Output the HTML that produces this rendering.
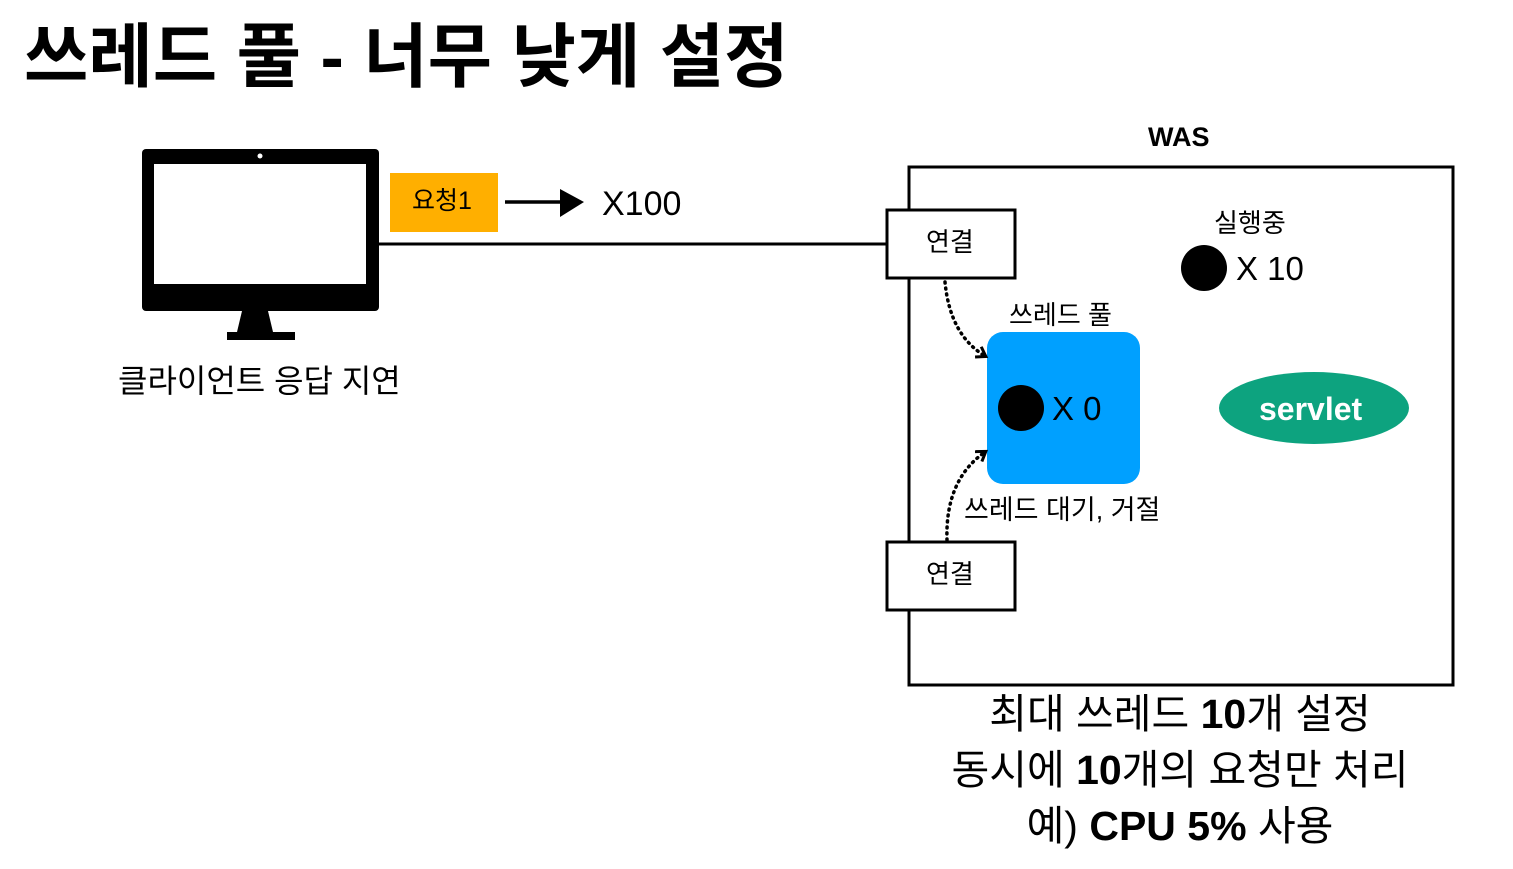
<!DOCTYPE html>
<html><head><meta charset="utf-8"><style>
body{margin:0;width:1513px;height:869px;background:#fff;position:relative;overflow:hidden;font-family:"Liberation Sans","Noto Sans CJK KR",sans-serif;color:#000}
.t{position:absolute;white-space:nowrap;line-height:1}
</style></head><body>
<svg width="1513" height="869" style="position:absolute;left:0;top:0">
<defs><marker id="ah" markerWidth="14" markerHeight="14" refX="10" refY="7" orient="auto" markerUnits="userSpaceOnUse"><path d="M2,1 L11,7 L2,13" fill="none" stroke="#000" stroke-width="3"/></marker></defs>
<rect x="142" y="149" width="237" height="162" rx="4" fill="#000"/>
<rect x="154" y="164" width="212" height="120" fill="#fff"/>
<circle cx="260" cy="156" r="2.5" fill="#fff"/>
<polygon points="242,311 268,311 273,332 237,332" fill="#000"/>
<rect x="227" y="332" width="68" height="8" fill="#000"/>
<line x1="379" y1="244" x2="887" y2="244" stroke="#000" stroke-width="3"/>
<rect x="390" y="173" width="108" height="59" fill="#FFAF00"/>
<line x1="505" y1="202" x2="570" y2="202" stroke="#000" stroke-width="3.5"/>
<polygon points="560,189 584,202 560,217" fill="#000"/>
<rect x="909" y="167" width="544" height="518" fill="none" stroke="#000" stroke-width="3"/>
<rect x="887" y="210" width="128" height="68" fill="#fff" stroke="#000" stroke-width="3"/>
<rect x="887" y="542" width="128" height="68" fill="#fff" stroke="#000" stroke-width="3"/>
<rect x="987" y="332" width="153" height="152" rx="16" fill="#00A0FF"/>
<circle cx="1021" cy="408" r="23" fill="#000"/>
<circle cx="1204" cy="268" r="23" fill="#000"/>
<ellipse cx="1314" cy="408" rx="95" ry="36" fill="#0DA37F"/>
<path d="M945,282 Q950,335 985,356" fill="none" stroke="#000" stroke-width="3.5" stroke-dasharray="1,5" stroke-linecap="round" marker-end="url(#ah)"/>
<path d="M947,540 Q945,480 985,452" fill="none" stroke="#000" stroke-width="3.5" stroke-dasharray="1,5" stroke-linecap="round" marker-end="url(#ah)"/>
</svg>
<div class="t" style="left:24px;top:22px;font-size:70px;font-weight:bold">쓰레드 풀 - 너무 낮게 설정</div>
<div class="t" style="left:412px;top:189px;font-size:25px">요청1</div>
<div class="t" style="left:602px;top:187px;font-size:34px">X100</div>
<div class="t" style="left:118px;top:365px;font-size:32px">클라이언트 응답 지연</div>
<div class="t" style="left:1148px;top:124px;font-size:27px;font-weight:bold">WAS</div>
<div class="t" style="left:926px;top:229px;font-size:26px">연결</div>
<div class="t" style="left:926px;top:561px;font-size:26px">연결</div>
<div class="t" style="left:1214px;top:210px;font-size:26px">실행중</div>
<div class="t" style="left:1236px;top:252px;font-size:33px">X 10</div>
<div class="t" style="left:1009px;top:302px;font-size:26px">쓰레드 풀</div>
<div class="t" style="left:1052px;top:392px;font-size:33px">X 0</div>
<div class="t" style="left:1259px;top:393px;font-size:32px;font-weight:bold;color:#fff">servlet</div>
<div class="t" style="left:964px;top:497px;font-size:27px">쓰레드 대기, 거절</div>
<div class="t" style="left:0;width:2360px;top:694px;font-size:41px;text-align:center">최대 쓰레드 <b>10</b>개 설정</div>
<div class="t" style="left:0;width:2360px;top:750px;font-size:41px;text-align:center">동시에 <b>10</b>개의 요청만 처리</div>
<div class="t" style="left:0;width:2360px;top:806px;font-size:41px;text-align:center">예) <b>CPU 5%</b> 사용</div>
</body></html>
